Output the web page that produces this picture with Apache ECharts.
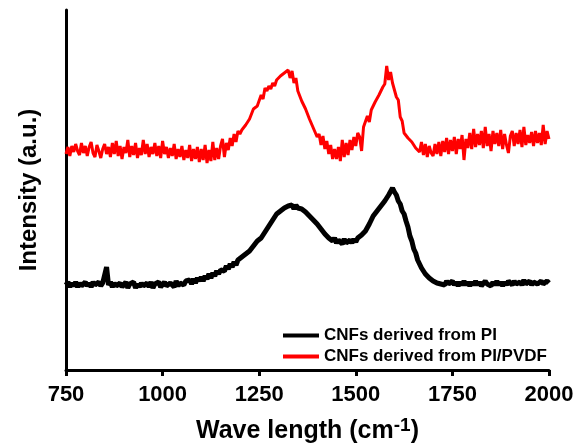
<!DOCTYPE html>
<html>
<head>
<meta charset="utf-8">
<script src="https://cdn.jsdelivr.net/npm/echarts@6/dist/echarts.min.js"></script>
<style>
html,body{margin:0;padding:0;background:#fff;}
#chart{width:574px;height:446px;}
</style>
</head>
<body>
<div id="chart"></div>
<script>
// Raman spectra, sampled every 5 cm-1 from 750 to 2000
var waveStart = 750, waveStep = 5;
var xTicks = [750, 1000, 1250, 1500, 1750, 2000];
var seriesNames = ['CNFs derived from PI', 'CNFs derived from PI/PVDF'];

// CNFs derived from PI (black)
var piValues = [
 85,88,83,87,84,88,83,87,84,86,     // 750
 88,84,87,83,88,85,83,88,84,87,     // 800
 86,103,85,88,83,87,84,82,87,83,    // 850
 85,88,82,86,84,88,82,86,83,87,     // 900
 84,82,87,83,88,82,86,84,88,83,     // 950
 85,88,84,82,87,85,83,89,84,87,     // 1000
 88,85,89,87,90,86,91,87,92,89,     // 1050
 93,89,94,91,96,92,97,94,99,96,     // 1100
 100,102,99,104,101,106,103,108,105,110,  // 1150
 108,113,111,116,114,119,120,124,125,129, // 1200
 128,132,134,138,140,144,146,150,152,156, // 1250
 155,159,158,162,160,164,162,165,161,165, // 1300
 162,164,161,162,158,159,154,155,150,149, // 1350
 146,145,141,141,136,137,132,134,129,132, // 1400
 127,130,128,126,131,127,125,130,127,131, // 1450
 128,132,131,135,135,139,140,146,148,154, // 1500
 154,159,159,164,165,169,170,175,177,182, // 1550
 178,175,169,166,159,156,149,143,134,129, // 1600
 121,117,110,108,102,100,96,96,92,92,     // 1650
 89,91,87,89,86,88,85,89,86,88,     // 1700
 89,85,88,84,88,85,89,85,88,84,     // 1750
 88,85,89,85,88,84,86,89,86,87,     // 1800
 84,88,85,89,85,88,84,88,85,89,     // 1850
 88,85,89,86,84,88,85,90,86,87,     // 1900
 89,85,88,90,86,85,89,86,85,89,     // 1950
 87                                 // 2000
];

// CNFs derived from PI/PVDF (red)
var pvdfValues = [
 216,223,214,224,218,226,219,215,227,217, // 750
 224,214,223,228,217,213,225,219,212,221, // 800
 226,216,223,213,227,216,229,214,224,211, // 850
 223,217,230,213,224,215,227,212,222,215, // 900
 230,216,226,213,223,216,227,214,224,212, // 950
 229,216,223,212,222,214,226,211,221,213, // 1000
 224,210,220,212,225,209,221,211,223,208, // 1050
 221,210,225,207,220,209,228,210,222,211, // 1100
 224,231,213,227,220,232,224,236,228,239, // 1150
 236,240,241,245,247,251,251,261,259,264, // 1200
 265,275,271,282,279,284,281,287,284,290, // 1250
 288,294,292,297,295,300,292,299,287,292, // 1300
 279,280,269,270,261,261,251,252,242,243, // 1350
 233,236,225,234,221,229,216,225,211,221, // 1400
 211,223,209,230,213,227,215,230,220,233, // 1450
 224,237,233,219,243,244,254,248,260,260, // 1500
 268,268,275,276,283,286,304,290,298,287, // 1550
 287,273,270,253,249,237,236,232,231,228, // 1600
 228,222,224,218,228,215,226,213,224,217, // 1650
 214,226,216,228,214,229,218,232,216,230, // 1700
 219,233,216,231,221,235,210,231,222,237, // 1750
 221,241,223,236,225,239,222,243,224,236, // 1800
 219,239,226,237,224,240,221,236,225,217, // 1850
 234,239,224,237,226,240,223,243,225,235, // 1900
 227,238,224,239,227,237,225,245,226,239, // 1950
 231                                      // 2000
];

function toPairs(vals){
  var out = [];
  for (var i = 0; i < vals.length; i++) {
    out.push([waveStart + i * waveStep, vals[i]]);
  }
  return out;
}

var chart = echarts.init(document.getElementById('chart'));

var option = {
  animation: false,
  backgroundColor: '#fff',
  grid: {left: 66, right: 25, top: 10, bottom: 76, outerBoundsMode: 'none', containLabel: false},
  legend: {
    orient: 'vertical',
    left: 278, top: 322,
    itemWidth: 36, itemHeight: 4, itemGap: 4,
    icon: 'rect',
    textStyle: {fontFamily: 'Liberation Sans, Arial', fontWeight: 'bold', fontSize: 17, color: '#000'},
    data: seriesNames
  },
  xAxis: {
    type: 'value',
    min: 750, max: 2000, interval: 250,
    name: 'Wave length (cm{sup|-1})',
    nameLocation: 'middle',
    nameGap: 46,
    nameTextStyle: {
      fontFamily: 'Liberation Sans, Arial', fontWeight: 'bold', fontSize: 25, color: '#000',
      rich: {sup: {fontFamily: 'Liberation Sans, Arial', fontWeight: 'bold', fontSize: 19, color: '#000', padding: [0, 0, 12, 0]}}
    },
    axisLine: {lineStyle: {color: '#000', width: 3}},
    axisTick: {show: true, length: 6, lineStyle: {color: '#000', width: 3}},
    axisLabel: {
      margin: 14, fontFamily: 'Liberation Sans, Arial', fontWeight: 'bold', fontSize: 22, color: '#000',
      customValues: xTicks,
      formatter: function (v) { return String(v); }
    },
    splitLine: {show: false}
  },
  yAxis: {
    type: 'value',
    min: 0, max: 360,
    name: 'Intensity (a.u.)',
    nameLocation: 'middle',
    nameGap: 25,
    nameTextStyle: {fontFamily: 'Liberation Sans, Arial', fontWeight: 'bold', fontSize: 24, color: '#000'},
    axisLine: {show: true, lineStyle: {color: '#000', width: 3}},
    axisTick: {show: false},
    axisLabel: {show: false},
    splitLine: {show: false}
  },
  series: [
    {
      name: seriesNames[0], type: 'line', data: toPairs(piValues),
      symbol: 'none', color: '#000',
      lineStyle: {color: '#000', width: 5}
    },
    {
      name: seriesNames[1], type: 'line', data: toPairs(pvdfValues),
      symbol: 'none', color: '#ff0000',
      lineStyle: {color: '#ff0000', width: 3}
    }
  ]
};

chart.setOption(option);
</script>
</body>
</html>
